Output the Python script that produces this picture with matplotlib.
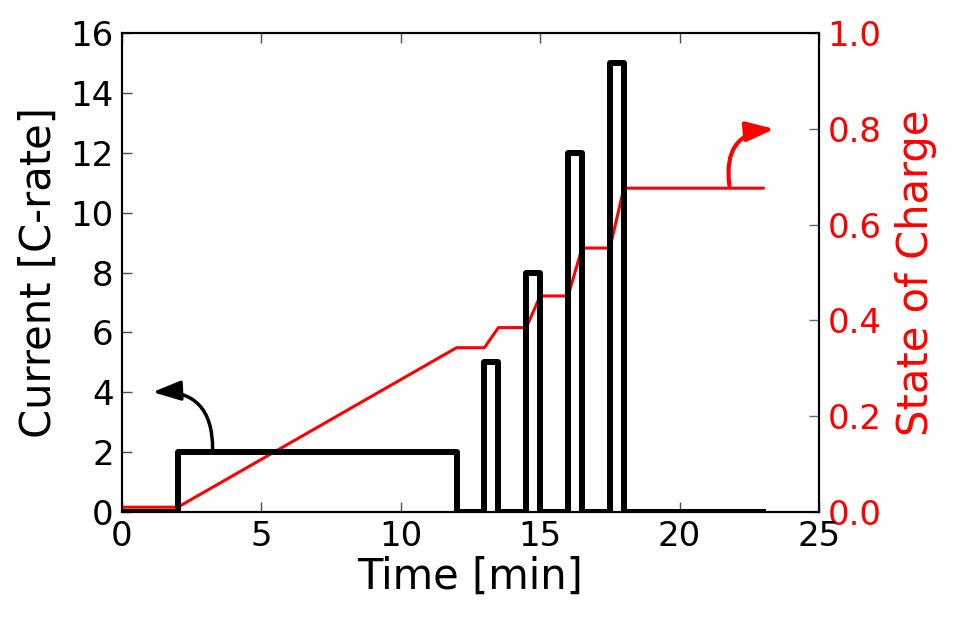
import matplotlib
matplotlib.use("Agg")
import matplotlib.pyplot as plt

# current profile (C-rate) vs time (min)
t_cur = [0, 2, 2, 12, 12, 13, 13, 13.5, 13.5, 14.5, 14.5, 15, 15,
         16, 16, 16.5, 16.5, 17.5, 17.5, 18, 18, 23]
i_cur = [0, 0, 2, 2, 0, 0, 5, 5, 0, 0, 8, 8, 0,
         0, 12, 12, 0, 0, 15, 15, 0, 0]

# state of charge vs time (min)
t_soc = [0, 2, 12, 13, 13.5, 14.5, 15, 16, 16.5, 17.5, 18, 23]
soc = [0.01, 0.01, 0.343, 0.343, 0.385, 0.385, 0.451, 0.451,
       0.551, 0.551, 0.676, 0.676]

plt.rcParams['font.family'] = 'DejaVu Sans'

fig = plt.figure(figsize=(9.54, 6.24), dpi=100)
ax = fig.add_axes([122 / 954, 1 - 512 / 624, (819 - 122) / 954, (512 - 33) / 624])
ax2 = ax.twinx()

ax.plot(t_cur, i_cur, color="black", lw=4.3, solid_joinstyle="round", zorder=3)
ax2.plot(t_soc, soc, color="red", lw=2.2, zorder=2)

ax.set_xlim(0, 25)
ax.set_ylim(0, 16)
ax2.set_ylim(0, 1.0)
ax.set_xticks([0, 5, 10, 15, 20, 25])
ax.set_yticks(range(0, 17, 2))
ax2.set_yticks([0, 0.2, 0.4, 0.6, 0.8, 1.0])

ax.tick_params(direction="in", length=7, width=1, labelsize=24.5, top=True,
               pad=6, color="0.3")
ax2.tick_params(direction="in", length=7, width=1, labelsize=24.5,
                labelcolor="red", pad=6, color="0.4")

ax.set_xlabel("Time [min]", fontsize=30, labelpad=2)
ax.set_ylabel("Current [C-rate]", fontsize=30, labelpad=8)
ax2.set_ylabel("State of Charge", fontsize=30, color="red", labelpad=10)

for a in (ax, ax2):
    for s in a.spines.values():
        s.set_linewidth(1.5)

ax.set_zorder(ax2.get_zorder() + 1)
ax.patch.set_visible(False)

ax.annotate("", xy=(1.0, 4.0), xytext=(3.25, 2.0),
            arrowprops=dict(arrowstyle="-|>,head_length=1.7,head_width=0.6",
                            color="black", lw=2.5,
                            connectionstyle="arc3,rad=0.55"))
ax2.annotate("", xy=(23.5, 0.8), xytext=(21.8, 0.676),
             arrowprops=dict(arrowstyle="-|>,head_length=1.7,head_width=0.6",
                             color="red", lw=3,
                             connectionstyle="arc3,rad=-0.55"))

fig.savefig("out.png", dpi=100)
